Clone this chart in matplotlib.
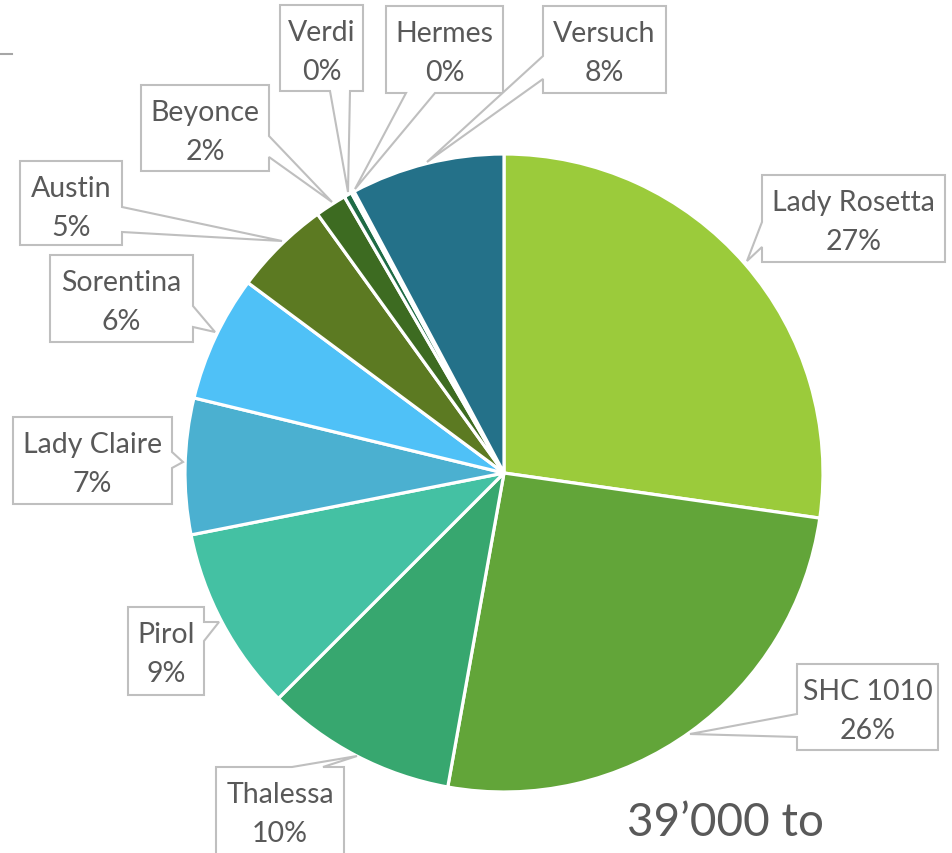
import matplotlib
matplotlib.use("Agg")
import matplotlib.pyplot as plt
from matplotlib.patches import Polygon

# ---- data ----
categories = ["Lady Rosetta", "SHC 1010", "Thalessa", "Pirol", "Lady Claire",
              "Sorentina", "Austin", "Beyonce", "Verdi", "Hermes", "Versuch"]
shares = [27.3, 25.6, 9.7, 9.4, 6.9, 6.4, 4.9, 1.6, 0.4, 0.15, 7.8]
colors = ["#9BCB3B", "#62A539", "#37A76F", "#44C1A3", "#4BB0D0",
          "#4FC1F7", "#5C7A22", "#3D6B21", "#1F6B45", "#1E6B58", "#247189"]
caption = "39\u2019000 to"

W, H = 953, 854
fig = plt.figure(figsize=(W / 100, H / 100), dpi=100)
ax = fig.add_axes([0, 0, 1, 1])

cx, cy, R = 504, 474, 319
ax.pie(shares, colors=colors, startangle=90, counterclock=False,
       center=(cx, H - cy), radius=R,
       wedgeprops=dict(edgecolor="white", linewidth=2.3))
ax.set_xlim(0, W)
ax.set_ylim(0, H)
ax.set_aspect("equal")
ax.axis("off")

total = sum(shares)
pcts = [f"{round(v / total * 100)}%" for v in shares]

# callout layout (pixel coords): box (l, t, r, b), side, base (a1, a2), tip
callouts = {
    "Lady Rosetta": ((762, 176, 945, 263), "left", (223, 248), (747, 262)),
    "SHC 1010": ((797, 665, 938, 751), "left", (715, 738), (690, 735)),
    "Thalessa": ((216, 768, 344, 900), "top", (292, 323), (357, 757)),
    "Pirol": ((128, 608, 204, 696), "right", (623, 642), (219, 623)),
    "Lady Claire": ((13, 418, 172, 505), "right", (453, 469), (183, 463)),
    "Sorentina": ((50, 256, 193, 343), "right", (307, 328), (215, 333)),
    "Austin": ((20, 162, 122, 246), "right", (208, 233), (282, 242)),
    "Beyonce": ((141, 86, 269, 172), "right", (137, 158), (332, 203)),
    "Verdi": ((280, 6, 363, 92), "bottom", (330, 350), (348, 193)),
    "Hermes": ((386, 7, 503, 94), "bottom", (406, 435), (355, 190)),
    "Versuch": ((543, 7, 666, 94), "left", (57, 80), (427, 163)),
}

def callout_poly(box, side, base, tip):
    l, t, r, b = box
    a1, a2 = base
    pts = [(l, t)]
    if side == "top":
        pts += [(a1, t), tip, (a2, t)]
    pts += [(r, t)]
    if side == "right":
        pts += [(r, a1), tip, (r, a2)]
    pts += [(r, b)]
    if side == "bottom":
        pts += [(a2, b), tip, (a1, b)]
    pts += [(l, b)]
    if side == "left":
        pts += [(l, a2), tip, (l, a1)]
    return [(x, H - y) for x, y in pts]

txt_color = "#595959"
fs = 20.5
for name, pct in zip(categories, pcts):
    box, side, base, tip = callouts[name]
    poly = Polygon(callout_poly(box, side, base, tip), closed=True,
                   facecolor="white", edgecolor="#BFBFBF", linewidth=1.5,
                   zorder=5, clip_on=True)
    ax.add_patch(poly)
    l, t, r, b = box
    xc = (l + r) / 2
    ax.text(xc, H - (t + 27), name, ha="center", va="center", fontsize=fs,
            color=txt_color, family="Lato", zorder=6)
    ax.text(xc, H - (t + 66), pct, ha="center", va="center", fontsize=fs,
            color=txt_color, family="Lato", zorder=6)

ax.plot([0, 12], [H - 55, H - 55], color="#A6A6A6", linewidth=1.5)
ax.text(627, H - 823, caption, ha="left", va="center", fontsize=33,
        color=txt_color, family="Lato")

fig.savefig("out.png", dpi=100)
